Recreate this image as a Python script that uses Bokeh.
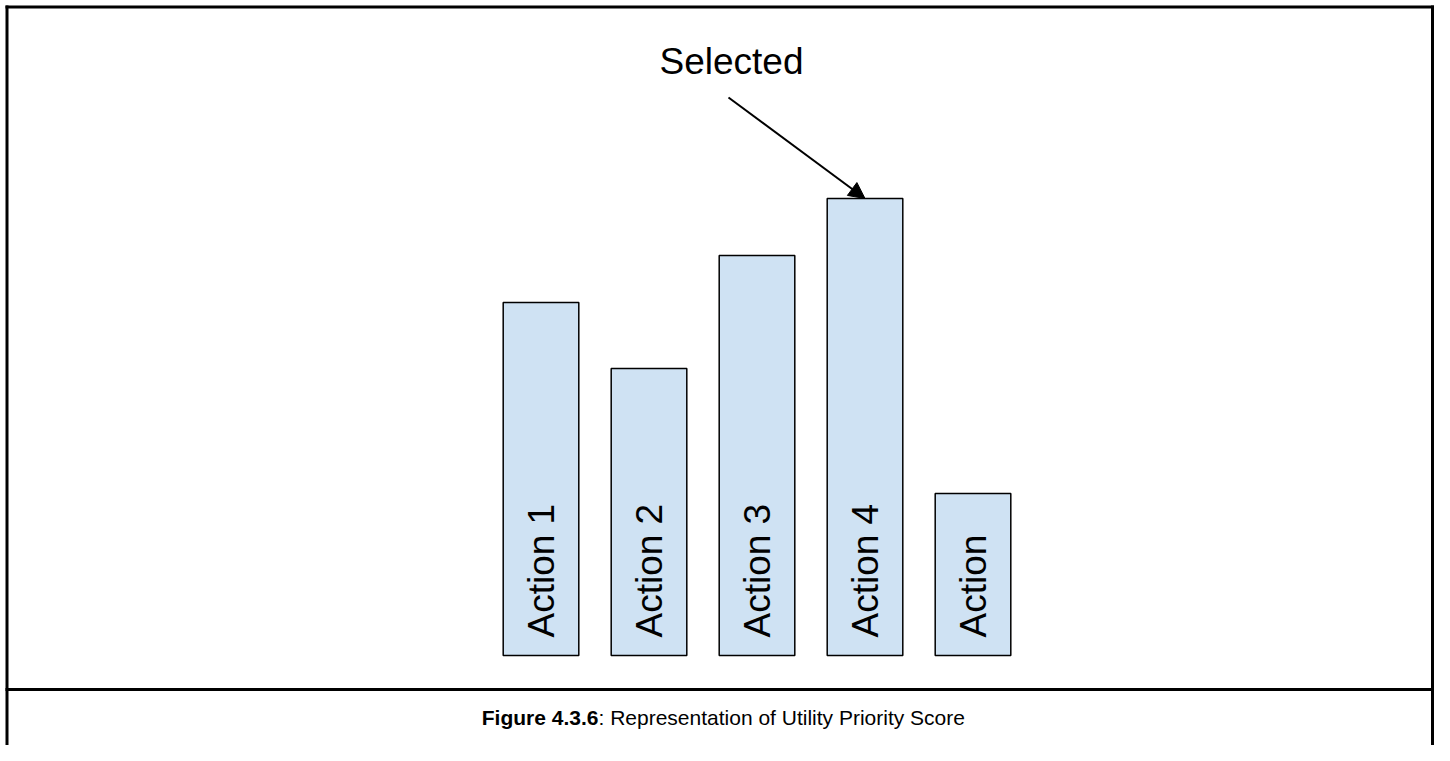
import math
from bokeh.plotting import figure
from bokeh.models import Range1d, Arrow, NormalHead, ColumnDataSource
from bokeh.core.properties import value
from bokeh.embed import file_html
from bokeh.resources import INLINE

# ---- data ----
actions = ["Action 1", "Action 2", "Action 3", "Action 4", "Action"]
scores = [7.06, 5.74, 8.0, 9.14, 3.24]
selected_label = "Selected"
caption_bold = "Figure 4.3.6"
caption_rest = ": Representation of Utility Priority Score"

# ---- layout constants ----
W, H = 1434, 745
PX_X = 108.0   # px per action slot
PX_Y = 50.0    # px per score unit
CX0 = 540.5    # pixel column of first action
BASE = 655.0   # pixel row of score 0


def dx(px):
    return (px - CX0) / PX_X


def dy(py):
    return (BASE - py) / PX_Y


FONT = value("Liberation Sans")

p = figure(width=W, height=H, x_range=Range1d(dx(0), dx(W)), y_range=Range1d(dy(H), dy(0)),
           output_backend="svg", toolbar_location=None, min_border=0,
           background_fill_color="white", border_fill_color="white")
p.axis.visible = False
p.grid.visible = False
p.outline_line_color = None

xs = list(range(len(actions)))
src = ColumnDataSource(dict(x=xs, top=scores, label=actions))

p.vbar(x="x", top="top", bottom=0, width=0.70, source=src,
       fill_color="#cfe2f3", line_color="black", line_width=1.5)

p.text(x="x", y=dy(637), text="label", source=src, angle=math.pi / 2,
       x_offset=0, text_align="left", text_baseline="alphabetic",
       text_font=FONT, text_font_size="37px", text_color="black")

# selected annotation
sel = scores.index(max(scores))
p.add_layout(Arrow(end=NormalHead(size=16, fill_color="black", line_color="black"),
                   x_start=dx(728), y_start=dy(97), x_end=xs[sel], y_end=scores[sel],
                   line_width=2, line_color="black"))
p.text(x=[dx(659)], y=[dy(61)], text=[selected_label], text_align="left",
       text_baseline="alphabetic", text_font=FONT, text_font_size="37px",
       text_color="black")

# caption
p.text(x=[dx(598)], y=[dy(717)], text=[caption_bold], text_align="right",
       text_baseline="alphabetic", text_font=FONT, text_font_size="21px",
       text_font_style="bold", text_color="black")
p.text(x=[dx(598)], y=[dy(717)], text=[caption_rest], text_align="left",
       text_baseline="alphabetic", text_font=FONT, text_font_size="21px",
       text_color="black")

# frame lines
L, R, T, SEP, B = dx(6.5), dx(1432), dy(6.5), dy(689), dy(H + 5)
p.segment(x0=[L, R, L, L], y0=[T, T, T, SEP], x1=[L, R, R, R], y1=[B, B, T, SEP],
          line_color="black", line_width=3, line_cap="square")

open("out.html", "w").write(file_html(p, INLINE))
